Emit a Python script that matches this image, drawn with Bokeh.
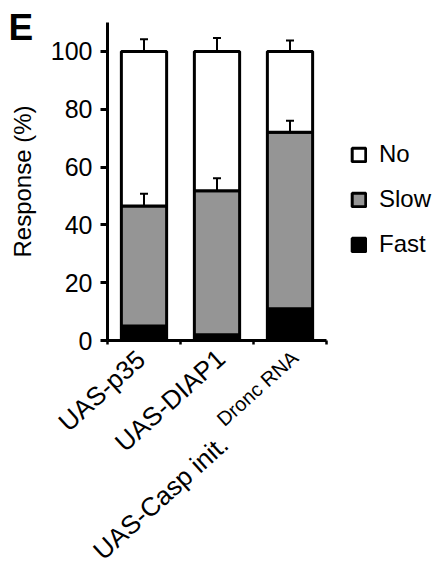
import math
from bokeh.plotting import figure
from bokeh.models import (ColumnDataSource, Range1d, FixedTicker, Whisker, TeeHead,
                          Legend, LegendItem, Label)
from bokeh.embed import file_html
from bokeh.resources import INLINE

# ---- data ----
categories = ["UAS-p35", "UAS-DIAP1", "UAS-Casp init."]
superscripts = ["", "", "Dronc RNA"]
fast = [5.0, 2.0, 11.0]
slow_top = [46.5, 51.8, 72.0]
slow_err = [4.3, 4.3, 4.0]
no_top = [100.0, 100.0, 100.0]
no_err = [4.2, 4.6, 3.8]
y_ticks = [0, 20, 40, 60, 80, 100]
series = ["Fast", "Slow", "No"]
series_colors = ["#000000", "#959595", "#ffffff"]

FONT = "Liberation Sans"

# ---- layout (pixels) ----
W, H = 440, 569
FRAME_L, FRAME_R = 107, 326
FRAME_T, FRAME_B = 22, 340
Y_MAX = 110
ncat = len(categories)
px_x = (FRAME_R - FRAME_L) / ncat
px_y = (FRAME_B - FRAME_T) / Y_MAX

xs = [i + 0.5 for i in range(ncat)]
slow = [t - f for t, f in zip(slow_top, fast)]
no = [n - t for n, t in zip(no_top, slow_top)]

src = ColumnDataSource(dict(x=xs, Fast=fast, Slow=slow, No=no))

p = figure(width=W, height=H, output_backend="svg", toolbar_location=None,
           x_range=Range1d(-FRAME_L / px_x, (W - FRAME_L) / px_x),
           y_range=Range1d(-(H - FRAME_B) / px_y, Y_MAX + FRAME_T / px_y),
           min_border=0)
p.outline_line_color = None
p.xgrid.visible = False
p.ygrid.visible = False
p.background_fill_color = "white"
p.border_fill_color = "white"

renderers = p.vbar_stack(series, x="x", width=0.62, source=src,
                         fill_color=series_colors, line_color="black", line_width=3)

# error bars (upward only)
err_src = ColumnDataSource(dict(
    x=xs + xs,
    lo=slow_top + no_top,
    up=[t + e for t, e in zip(slow_top, slow_err)] + [t + e for t, e in zip(no_top, no_err)],
))
p.add_layout(Whisker(source=err_src, base="x", lower="lo", upper="up", dimension="height",
                     line_width=2, line_color="black", level="overlay",
                     upper_head=TeeHead(size=8, line_width=2, line_color="black"),
                     lower_head=None))

# y axis pinned at x = 0
ya = p.yaxis[0]
ya.fixed_location = 0
ya.bounds = (0, Y_MAX)
ya.ticker = FixedTicker(ticks=y_ticks)
ya.minor_tick_line_color = None
ya.axis_line_width = 3
ya.axis_line_color = "black"
ya.major_tick_line_width = 3
ya.major_tick_line_color = "black"
ya.major_tick_out = 7
ya.major_tick_in = 0
ya.major_label_standoff = 8
ya.major_label_text_font = FONT
ya.major_label_text_font_size = "25px"
ya.major_label_text_color = "black"
ya.axis_label = "Response (%)"
ya.axis_label_text_font = FONT
ya.axis_label_text_font_size = "24px"
ya.axis_label_text_font_style = "normal"
ya.axis_label_text_color = "black"
ya.axis_label_standoff = 12

# x axis pinned at y = 0: ticks at category boundaries; labels drawn as rotated text
xa = p.xaxis[0]
xa.fixed_location = 0
xa.bounds = (0, ncat)
xa.ticker = FixedTicker(ticks=list(range(ncat + 1)))
xa.major_label_overrides = {t: "" for t in range(ncat + 1)}
xa.minor_tick_line_color = None
xa.axis_line_width = 3
xa.axis_line_color = "black"
xa.major_tick_line_width = 2.5
xa.major_tick_line_color = "black"
xa.major_tick_out = 4
xa.major_tick_in = 0

ANGLE = math.radians(42)
main_offsets = [(-3, -15), (4, -14), (-66, -100)]
sup_offset = (5, -14)
for i, (cat, sup) in enumerate(zip(categories, superscripts)):
    dx, dy = main_offsets[i]
    p.add_layout(Label(x=xs[i], y=0, text=cat, angle=ANGLE, text_align="right",
                       text_baseline="middle", x_offset=dx, y_offset=dy,
                       text_font=FONT, text_font_size="26px", text_color="black"))
    if sup:
        p.add_layout(Label(x=xs[i], y=0, text=sup, angle=ANGLE, text_align="right",
                           text_baseline="middle", x_offset=sup_offset[0],
                           y_offset=sup_offset[1], text_font=FONT,
                           text_font_size="20px", text_color="black"))

# panel letter
p.add_layout(Label(x=8, y=H - 26.5, x_units="screen", y_units="screen", text="E",
                   text_font=FONT, text_font_size="37px", text_font_style="bold",
                   text_color="black", text_baseline="middle"))

# legend
r_fast, r_slow, r_no = renderers
p.add_layout(Legend(items=[LegendItem(label="No", renderers=[r_no]),
                           LegendItem(label="Slow", renderers=[r_slow]),
                           LegendItem(label="Fast", renderers=[r_fast])],
                    location=(350, H - 258), orientation="vertical",
                    glyph_width=17, glyph_height=17, label_height=28,
                    label_standoff=12, spacing=17, padding=0, margin=0,
                    border_line_color=None, background_fill_alpha=0,
                    label_text_font=FONT, label_text_font_size="24px",
                    label_text_color="black"))

open("out.html", "w").write(file_html(p, INLINE))
